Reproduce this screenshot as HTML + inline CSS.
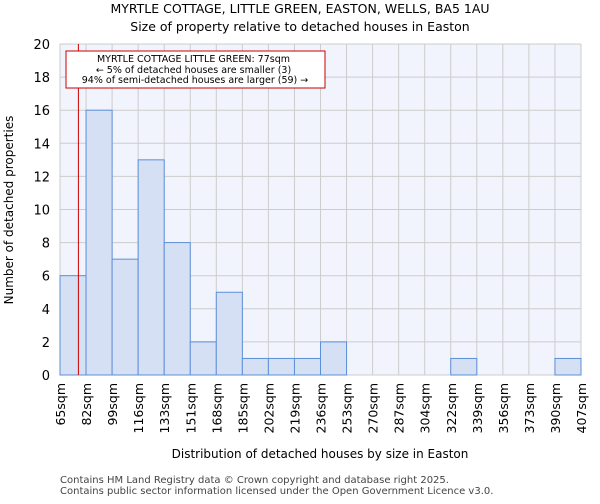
<!DOCTYPE html>
<html><head><meta charset="utf-8"><style>
body{margin:0;background:#fff;font-family:"DejaVu Sans","Liberation Sans",sans-serif;}
</style></head><body>
<svg id="chart" width="600" height="500" xmlns="http://www.w3.org/2000/svg" font-family="DejaVu Sans, Liberation Sans, sans-serif">
<text x="300" y="13" text-anchor="middle" font-size="12.5">MYRTLE COTTAGE, LITTLE GREEN, EASTON, WELLS, BA5 1AU</text>
<text x="300" y="31" text-anchor="middle" font-size="12.5">Size of property relative to detached houses in Easton</text>
<rect x="60" y="44" width="521" height="331" fill="#f1f4fc"/>
<g id="grid"></g>
<g id="bars"></g>
<g id="xticks"></g>
<g id="yticks"></g>
<line id="marker" y1="44" y2="375" stroke="#cc0000" stroke-width="1"/>
<rect x="66" y="51" width="259" height="37" fill="#fff" stroke="#cc0000" stroke-width="1"/>
<text font-size="9.5" text-anchor="middle">
<tspan x="195" y="62">MYRTLE COTTAGE LITTLE GREEN: 77sqm</tspan>
<tspan x="195" y="73">← 5% of detached houses are smaller (3)</tspan>
<tspan x="195" y="83">94% of semi-detached houses are larger (59) →</tspan>
</text>
<text transform="translate(13,210) rotate(-90)" text-anchor="middle" font-size="12">Number of detached properties</text>
<text x="320" y="458" text-anchor="middle" font-size="12">Distribution of detached houses by size in Easton</text>
<text x="60" y="483" font-size="10" fill="#444">Contains HM Land Registry data © Crown copyright and database right 2025.</text>
<text x="60" y="494" font-size="10" fill="#444">Contains public sector information licensed under the Open Government Licence v3.0.</text>
</svg>
<script>
const binLabels=["65sqm","82sqm","99sqm","116sqm","133sqm","151sqm","168sqm","185sqm","202sqm","219sqm","236sqm","253sqm","270sqm","287sqm","304sqm","322sqm","339sqm","356sqm","373sqm","390sqm","407sqm"];
const binEdges=[65,82,99,116,133,151,168,185,202,219,236,253,270,287,304,322,339,356,373,390,407];
const counts=[6,16,7,13,8,2,5,1,1,1,2,0,0,0,0,1,0,0,0,1];
const yTicks=[0,2,4,6,8,10,12,14,16,18,20];
const markerValue=77;
const X0=60,X1=581,Y0=375,Y1=44,NS="http://www.w3.org/2000/svg";
const n=counts.length;
function xi(i){return X0+(X1-X0)*i/n;}
function xv(v){let i=0;while(i<n-1&&v>binEdges[i+1])i++;return xi(i)+(v-binEdges[i])/(binEdges[i+1]-binEdges[i])*(X1-X0)/n;}
function y(v){return Y0-(Y0-Y1)*v/20;}
function mk(t,a,p){const e=document.createElementNS(NS,t);for(const k in a)e.setAttribute(k,a[k]);p.appendChild(e);return e;}
const grid=document.getElementById('grid'),bars=document.getElementById('bars'),xt=document.getElementById('xticks'),yt=document.getElementById('yticks');
yTicks.forEach(t=>{
 const l=mk('line',{x1:X0,x2:X1,y1:y(t),y2:y(t),stroke:'#cccccc','stroke-width':1},grid);
 
 
 const tx=mk('text',{x:50,y:y(t)+5,'text-anchor':'end','font-size':13},yt);
 
 
 tx.textContent=t;
});
binLabels.forEach((lab,i)=>{
 const l=mk('line',{x1:xi(i),x2:xi(i),y1:Y1,y2:Y0,stroke:'#cccccc','stroke-width':1},grid);
 
 
 const tx=mk('text',{transform:`translate(${xi(i)+5},${Y0+8}) rotate(-90)`,'text-anchor':'end','font-size':12.5},xt);
 
 
 tx.textContent=lab;
});
counts.forEach((c,i)=>{
 if(c<=0)return;
 const r=mk('rect',{x:xi(i),y:y(c),width:xi(i+1)-xi(i),height:Y0-y(c),fill:'#d6e0f4',stroke:'#5b8fd9','stroke-width':1},bars);
 
 
});
const m=document.getElementById('marker');
m.setAttribute('x1',xv(markerValue));m.setAttribute('x2',xv(markerValue));
</script>
</body></html>
